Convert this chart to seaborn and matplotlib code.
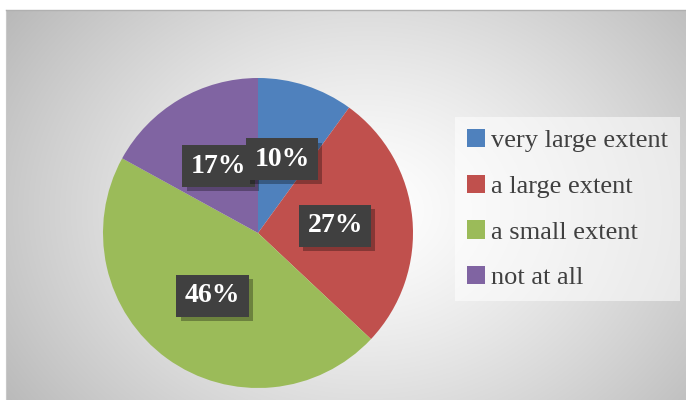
import numpy as np
import matplotlib
matplotlib.use("Agg")
import matplotlib.pyplot as plt
import matplotlib.patheffects as pe
import seaborn as sns

categories = ["very large extent", "a large extent", "a small extent", "not at all"]
values = [10, 27, 46, 17]
colors = ["#4F81BD", "#C0504D", "#9BBB59", "#8064A2"]

sns.set_style("white")
plt.rcParams['font.family'] = ['Liberation Serif', 'DejaVu Serif']

W, H = 686, 400
fig = plt.figure(figsize=(W / 100, H / 100), dpi=100)
fig.patch.set_facecolor("white")

# background panel with radial gradient
bg = fig.add_axes([6 / W, 0, 1 - 6 / W, 1 - 10 / H])
yy, xx = np.mgrid[0:390, 0:680]
cx, cy = 360, 200
d = np.sqrt(((xx - cx) / 420.0) ** 2 + ((yy - cy) / 330.0) ** 2)
val = 1.0 - 0.26 * np.clip(d, 0, 1.2) ** 1.3
img = np.dstack([val, val, val])
bg.imshow(img, aspect="auto", extent=[0, 1, 0, 1], origin="upper")
bg.set_xlim(0, 1)
bg.set_ylim(0, 1)
bg.set_xticks([])
bg.set_yticks([])
for s in bg.spines.values():
    s.set_visible(False)
bg.spines["top"].set_visible(True)
bg.spines["left"].set_visible(True)
bg.spines["top"].set_color("#b0b0b0")
bg.spines["left"].set_color("#c8c8c8")
bg.spines["top"].set_linewidth(1.0)
bg.spines["left"].set_linewidth(0.8)

# pie
r = 155
cxp, cyp = 258, 233
ax = fig.add_axes([(cxp - r) / W, 1 - (cyp + r) / H, 2 * r / W, 2 * r / H])
ax.set_facecolor("none")
wedges, texts, autotexts = ax.pie(
    values, colors=colors, startangle=90, counterclock=False,
    autopct=lambda p: f"{p:.0f}%", pctdistance=0.5,
    wedgeprops=dict(linewidth=0),
    textprops=dict(color="white", fontsize=20, fontweight="bold"),
)
ax.set_xlim(-1, 1)
ax.set_ylim(-1, 1)
ax.set_aspect("auto")
for i, t in enumerate(autotexts):
    t.set_bbox(dict(boxstyle="square,pad=0.3", fc="#404040", ec="none"))
    t.get_bbox_patch().set_path_effects([
        pe.SimplePatchShadow(offset=(3, -3), alpha=0.3, shadow_rgbFace="black"),
        pe.Normal(),
    ])
    t.set_zorder(10 - i)

# legend
leg = fig.legend(
    wedges, categories,
    loc="upper left", bbox_to_anchor=(455 / W, 1 - 117 / H),
    borderaxespad=0,
    fontsize=19, frameon=True, fancybox=False,
    handlelength=0.7, handleheight=0.7, handletextpad=0.2,
    labelspacing=0.84, borderpad=0.45,
    labelcolor="#404040",
)
frame = leg.get_frame()
frame.set_facecolor("white")
frame.set_alpha(0.55)
frame.set_edgecolor("none")

fig.savefig("out.png", dpi=100)
